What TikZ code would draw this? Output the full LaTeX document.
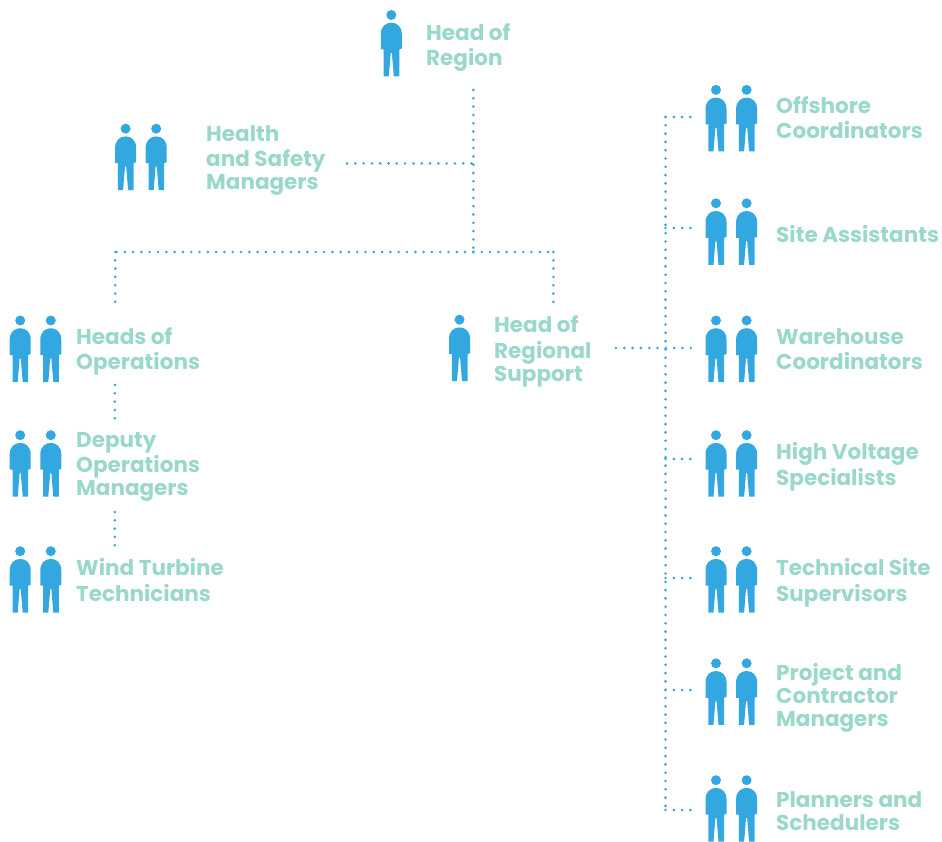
\documentclass[tikz,border=0pt]{standalone}
\usepackage{fontspec}
\setmainfont{Poppins}
\definecolor{figblue}{HTML}{33A8E0}
\definecolor{labelgreen}{HTML}{9AD8CB}
\newcommand{\lst}{\rule[-7pt]{0pt}{23pt}}
\tikzset{
  person/.pic={
    \fill[figblue] (0,0) circle (5);
    \fill[figblue] (-10.5,34.5) -- (-10.5,19) .. controls (-10.5,11.5) and (-5.5,7.7) .. (0,7.7)
       .. controls (5.5,7.7) and (10.5,11.5) .. (10.5,19) -- (10.5,33.5) -- (8,34.5) -- (8,61.5)
       -- (2.5,61.5) -- (0.6,38) -- (-0.6,38) -- (-2.5,61.5) -- (-7.7,61.5) -- (-7.7,34.5) -- cycle;
  },
  pair/.pic={
    \pic at (0,0) {person};
    \pic at (30.6,0) {person};
  },
  lbl/.style={anchor=west,align=left,inner sep=0pt,text=labelgreen,
    font=\fontsize{21.5}{23}\selectfont\bfseries},
  link/.style={draw=figblue,line width=2.9pt,line cap=round,dash pattern=on 0pt off 8.3pt},
}
\begin{document}
\begin{tikzpicture}[x=1pt,y=-1pt]
\useasboundingbox (0,0) rectangle (942,842);
% figures
\pic at (391.3,15) {person};
\pic at (125.6,128.7) {pair};
\pic at (20.2,320.5) {pair};
\pic at (20.2,435.2) {pair};
\pic at (20.2,551.2) {pair};
\pic at (459.5,319.7) {person};
\pic at (716,89.9) {pair};
\pic at (716,203.3) {pair};
\pic at (716,320.5) {pair};
\pic at (716,435.2) {pair};
\pic at (716,551.2) {pair};
\pic at (716,663.3) {pair};
\pic at (716,780.2) {pair};
% labels
\node[lbl] (region) at (426,48.4) {\lst Head of\\\lst Region};
\node[lbl] (safety) at (206,161) {\lst Health\\\lst and Safety\\\lst Managers};
\node[lbl] (ops) at (76,352.4) {\lst Heads of\\\lst Operations};
\node[lbl] (deputy) at (76,467) {\lst Deputy\\\lst Operations\\\lst Managers};
\node[lbl] (wind) at (76,583.4) {\lst Wind Turbine\\\lst Technicians};
\node[lbl] (support) at (494,352) {\lst Head of\\\lst Regional\\\lst Support};
\node[lbl] (offshore) at (776,121.4) {\lst Offshore\\\lst Coordinators};
\node[lbl] (site) at (776,237.6) {\lst Site Assistants};
\node[lbl] (warehouse) at (776,352.4) {\lst Warehouse\\\lst Coordinators};
\node[lbl] (voltage) at (776,467.4) {\lst High Voltage\\\lst Specialists};
\node[lbl] (technical) at (776,583.4) {\lst Technical Site\\\lst Supervisors};
\node[lbl] (project) at (776,698) {\lst Project and\\\lst Contractor\\\lst Managers};
\node[lbl] (planners) at (776,814.4) {\lst Planners and\\\lst Schedulers};
% connector ends
\coordinate (top) at (473.4,90);
\coordinate (mid) at (473.4,163.4);
\coordinate (junction) at (473.4,252);
\coordinate (safetyEnd) at (347,163.4);
\coordinate (left) at (115.2,252);
\coordinate (right) at (553.4,252);
\coordinate (leftDown) at (115.2,303);
\coordinate (rightDown) at (553.4,303);
\coordinate (opsA) at (114.8,385);
\coordinate (opsB) at (114.8,420);
\coordinate (depA) at (114.8,512);
\coordinate (depB) at (114.8,550);
\coordinate (supEnd) at (616,348);
\coordinate (r1s) at (665.5,117);
\coordinate (r1) at (692,117);
\coordinate (r2s) at (665.5,228);
\coordinate (r2) at (692,228);
\coordinate (r3s) at (665.5,348);
\coordinate (r3) at (692,348);
\coordinate (r4s) at (665.5,459);
\coordinate (r4) at (692,459);
\coordinate (r5s) at (665.5,578);
\coordinate (r5) at (692,578);
\coordinate (r6s) at (665.5,690);
\coordinate (r6) at (692,690);
\coordinate (r7s) at (665.5,810);
\coordinate (r7) at (692,810);
% connectors
\draw[link] (top) -- (junction);
\draw[link] (safetyEnd) -- (mid);
\draw[link] (junction) -- (left);
\draw[link] (junction) -- (right);
\draw[link] (left) -- (leftDown);
\draw[link] (right) -- (rightDown);
\draw[link] (opsA) -- (opsB);
\draw[link] (depA) -- (depB);
\draw[link] (supEnd) -- (r3);
\draw[link] (r1s) -- (r7s);
\foreach \i in {1,2,4,5,6,7} {\draw[link] (r\i s) -- (r\i);}
\end{tikzpicture}
\end{document}
